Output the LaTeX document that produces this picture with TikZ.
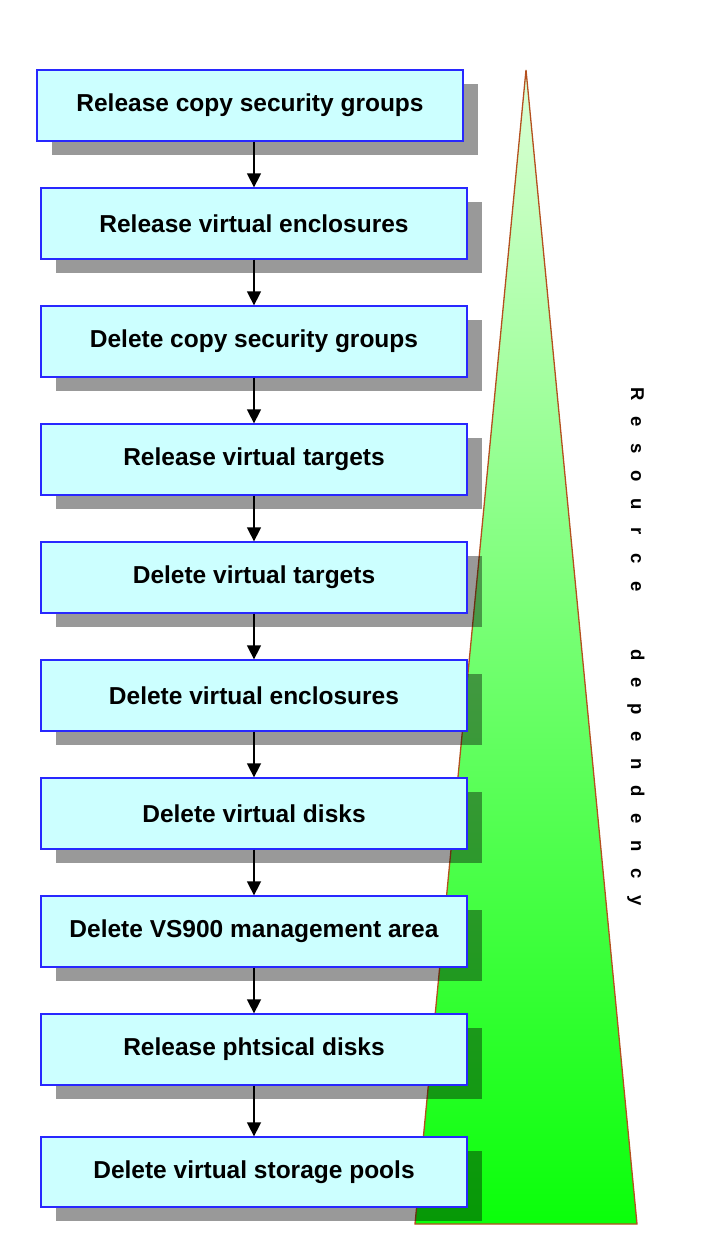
\documentclass[tikz,border=0pt]{standalone}
\usepackage{fontspec}
\setmainfont{Liberation Sans}
\usetikzlibrary{arrows.meta, shadows}

\definecolor{boxfill}{RGB}{204,255,255}
\definecolor{boxline}{RGB}{40,40,255}
\definecolor{edgebrown}{RGB}{180,80,30}
\definecolor{palegreen}{RGB}{220,255,215}
\definecolor{deepgreen}{RGB}{10,255,10}

\tikzset{
  stepbox/.style={draw=boxline, line width=1.3pt, fill=boxfill,
    minimum width=426pt, minimum height=71pt, inner sep=0pt,
    font=\bfseries\fontsize{24.5}{26}\selectfont,
    drop shadow={shadow xshift=15pt, shadow yshift=-14pt, fill=black, opacity=0.4}},
  flow/.style={line width=1.5pt, -{Triangle[length=14pt,width=14pt]}},
  wedge/.style={draw=edgebrown, line width=1.3pt, top color=palegreen, bottom color=deepgreen},
  vletter/.style={rotate=-90, anchor=base, inner sep=0pt, font=\bfseries\fontsize{18.5}{20}\selectfont}
}

\begin{document}
\begin{tikzpicture}[x=1pt,y=-1pt]
\useasboundingbox (0,0) rectangle (706,1257);
% dependency wedge
\draw[wedge] (526,70) -- (637,1224) -- (415,1224) -- cycle;
\foreach \ch [count=\k] in {R,e,s,o,u,r,c,e}
  \node[vletter] (res\k) at (631,{394+27.5*(\k-1)}) {\ch};
\foreach \ch [count=\k] in {d,e,p,e,n,d,e,n,c,y}
  \node[vletter] (dep\k) at (631,{655+27.3*(\k-1)}) {\ch};
% steps
\node[stepbox] (relcsg) at (250,105.5) {Release copy security groups};
\node[stepbox] (relve)  at (254,223.5) {Release virtual enclosures};
\node[stepbox] (delcsg) at (254,341.5) {Delete copy security groups};
\node[stepbox] (relvt)  at (254,459.5) {Release virtual targets};
\node[stepbox] (delvt)  at (254,577.5) {Delete virtual targets};
\node[stepbox] (delve)  at (254,695.5) {Delete virtual enclosures};
\node[stepbox] (delvd)  at (254,813.5) {Delete virtual disks};
\node[stepbox] (delma)  at (254,931.5) {Delete VS900 management area};
\node[stepbox] (relpd)  at (254,1049.5) {Release phtsical disks};
\node[stepbox, minimum height=70pt] (delpool) at (254,1172) {Delete virtual storage pools};
% order
\draw[flow] (relve.north |- relcsg.south) -- (relve.north);
\draw[flow] (relve.south) -- (delcsg.north);
\draw[flow] (delcsg.south) -- (relvt.north);
\draw[flow] (relvt.south) -- (delvt.north);
\draw[flow] (delvt.south) -- (delve.north);
\draw[flow] (delve.south) -- (delvd.north);
\draw[flow] (delvd.south) -- (delma.north);
\draw[flow] (delma.south) -- (relpd.north);
\draw[flow] (relpd.south) -- (delpool.north);
\end{tikzpicture}
\end{document}
